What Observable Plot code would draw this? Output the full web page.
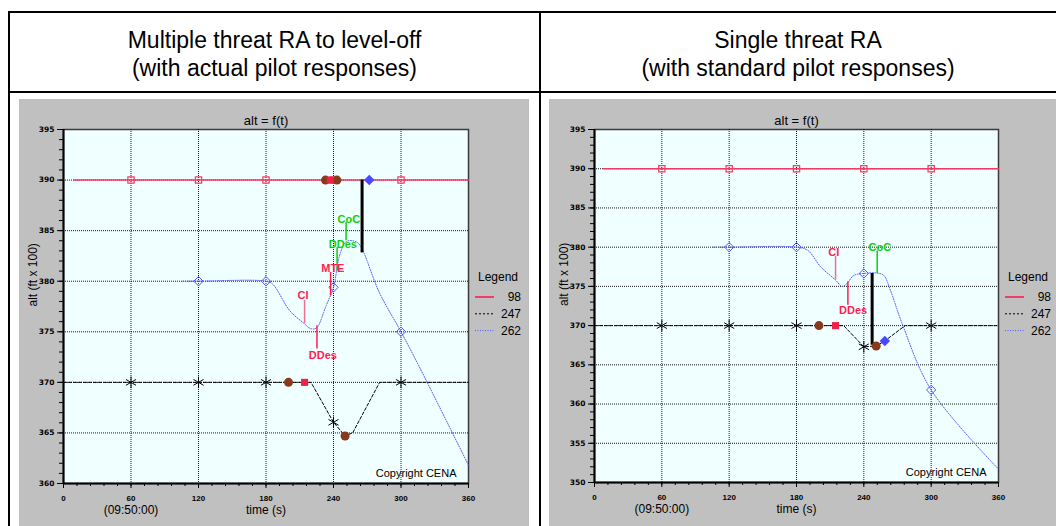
<!DOCTYPE html>
<html><head><meta charset="utf-8">
<script src="https://cdn.jsdelivr.net/npm/d3@7"></script>
<script src="https://cdn.jsdelivr.net/npm/@observablehq/plot@0.6"></script>
<style>
body{margin:0;background:#fff;width:1056px;height:526px;overflow:hidden;position:relative;font-family:"Liberation Sans",Arial,sans-serif}
.ln{position:absolute;background:#000}
.head{position:absolute;top:26px;text-align:center;font-size:23px;line-height:28px;color:#000}
.panel{position:absolute;top:99px}
.panel svg{display:block}
</style></head><body>
<div class="ln" style="left:8px;top:11px;width:1048px;height:2px"></div>
<div class="ln" style="left:8px;top:91px;width:1048px;height:2px"></div>
<div class="ln" style="left:8px;top:11px;width:2px;height:515px"></div>
<div class="ln" style="left:539px;top:11px;width:2px;height:515px"></div>
<div class="head" style="left:10px;width:529px">Multiple threat RA to level-off<br>(with actual pilot responses)</div>
<div class="head" style="left:541px;width:514px">Single threat RA<br>(with standard pilot responses)</div>
<div class="panel" id="left" style="left:19px"></div>
<div class="panel" id="right" style="left:549px"></div>
<script>
// ---------- data ----------
const seriesNames = ["98", "247", "262"];
const xMajor = [0, 60, 120, 180, 240, 300, 360];
const xLabels = ["0", "60", "120", "180", "240", "300", "360"];
const timeNote = "(09:50:00)";

// Left panel: multiple threat RA to level-off
const multiYDomain = [360, 395];
const multi98T = [9, 360], multi98Alt = [390, 390];
const multi98MarkT = [60, 120, 180, 240, 300], multi98MarkAlt = [390, 390, 390, 390, 390];
const multi247T = [0, 200, 214, 220, 240, 250.3, 257, 281, 360];
const multi247Alt = [370, 370, 370, 370, 366.05, 364.7, 365, 370, 370];
const multi247MarkT = [60, 120, 180, 240, 300], multi247MarkAlt = [370, 370, 370, 366.05, 370];
const multi262T = [106, 120, 180, 186, 201, 213, 220, 225, 233.5, 240, 245.3, 251, 257, 261.5, 265.4, 280.7, 300, 316, 360];
const multi262Alt = [380, 380, 380, 379.7, 377.1, 375.9, 375.3, 375.4, 377.6, 379.4, 382.5, 383.9, 384.0, 383.8, 383.2, 378.9, 375, 371.6, 361.8];
const multi262MarkT = [120, 180, 240, 300], multi262MarkAlt = [380, 380, 379.4, 375];
const multiCircleT = [232.9, 243, 200, 250.3], multiCircleAlt = [390, 390, 370, 364.7];
const multiSquareT = [237.1, 214.3], multiSquareAlt = [390, 370];
const multiDiamondT = [271.8], multiDiamondAlt = [390];
const multiBarT = [265.4], multiBarTop = [390], multiBarBottom = [382.8];
const multiAnnText = ["CI", "DDes", "MTE", "DDes", "CoC"];
const multiAnnKind = ["ciStem", "ra", "ra", "weak", "weak"];
const multiAnnT = [212.9, 230.6, 239.4, 248.3, 253.6];
const multiAnnAlt = [378.6, 372.7, 381.25, 383.65, 386.1];
const multiStemT = [214.3, 225.3, 237.4, 243.2, 251.2];
const multiStemA1 = [378.1, 375.6, 380.86, 383.3, 385.8];
const multiStemA2 = [375.8, 373.3, 378.55, 381.0, 384.0];

// Right panel: single threat RA
const singleYDomain = [350, 395];
const single98T = [8, 360], single98Alt = [390, 390];
const single98MarkT = [60, 120, 180, 240, 300], single98MarkAlt = [390, 390, 390, 390, 390];
const single247T = [0, 200, 215, 222, 240, 251, 258.7, 274, 277, 360];
const single247Alt = [370, 370, 370, 370, 367.3, 367.4, 368.05, 369.7, 370, 370];
const single247MarkT = [60, 120, 180, 240, 300], single247MarkAlt = [370, 370, 370, 367.3, 370];
const single262T = [106, 120, 180, 190, 201.5, 214.8, 220.7, 225.2, 231, 240, 251.9, 257.8, 263.7, 274, 300, 360];
const single262Alt = [380, 380, 380, 379.6, 377.5, 375.8, 375, 375.4, 376.4, 376.65, 376.7, 376.4, 374.5, 370.3, 361.8, 351.7];
const single262MarkT = [120, 180, 240, 300], single262MarkAlt = [380, 380, 376.65, 361.8];
const singleCircleT = [200, 251], singleCircleAlt = [370, 367.4];
const singleSquareT = [214.8], singleSquareAlt = [370];
const singleDiamondT = [258.7], singleDiamondAlt = [368.05];
const singleBarT = [247.4], singleBarTop = [376.65], singleBarBottom = [367.5];
const singleAnnText = ["CI", "DDes", "CoC"];
const singleAnnKind = ["ciStem", "ra", "weak"];
const singleAnnT = [213.3, 230.5, 254.2];
const singleAnnAlt = [379.3, 371.9, 380.0];
const singleStemT = [214.8, 225.8, 251.9];
const singleStemA1 = [378.8, 375.6, 379.5];
const singleStemA2 = [375.8, 372.6, 376.65];

// ---------- styling ----------
const NARROW = "'Liberation Sans Narrow','Arial Narrow',sans-serif";
const RED = "#f23c66", BLUE = "#5555ff", BROWN = "#8a3a1c", GREEN = "#10cc10", LABELRED = "#ff1f4f", PINK = "#f07090";
const stemColor = k => k === "ciStem" ? PINK : k === "ra" ? LABELRED : GREEN;
const textColor = k => k === "weak" ? GREEN : LABELRED;
const legendStyles = [
  {stroke: RED, dash: null, w: 2},
  {stroke: "#000", dash: "2,2", w: 1},
  {stroke: BLUE, dash: "1,1.5", w: 1}
];

function buildPanel(d, W, H, mL, mT, mR, mB) {
  const yMajor = d3.range(d.yDomain[0], d.yDomain[1] + 0.1, 5);
  const yMinor = d3.range(d.yDomain[0], d.yDomain[1] + 0.1, 1);
  const xMinor = d3.range(0, 361, 12);
  const idx = a => d3.range(a.length);
  const plot = Plot.plot({
    width: W, height: H, marginLeft: mL, marginTop: mT, marginRight: mR, marginBottom: mB,
    style: {background: "#c0c0c0", overflow: "visible", fontFamily: NARROW},
    x: {domain: [0, 360]},
    y: {domain: d.yDomain},
    marks: [
      Plot.frame({fill: "#f0ffff", stroke: "#3a3a3a", strokeWidth: 1.5}),
      Plot.gridX(xMajor.slice(1, -1), {stroke: "#000", strokeOpacity: 0.9, strokeDasharray: "1,1"}),
      Plot.gridY(yMajor.slice(1, -1), {stroke: "#000", strokeOpacity: 0.9, strokeDasharray: "1,1"}),
      Plot.axisY(yMinor, {tickSize: 4, tickFormat: () => "", label: null, stroke: "#000"}),
      Plot.axisY(yMajor, {tickSize: 6, tickPadding: 3, label: null, fontSize: 7.5, fontWeight: "bold",
        fontFamily: "'DejaVu Sans',sans-serif", fill: "#000"}),
      Plot.axisX(xMinor, {tickSize: 3, tickFormat: () => "", label: null}),
      Plot.axisX(xMajor, {tickSize: 5, tickPadding: 7, label: null, fontSize: 8, fontWeight: "bold",
        tickFormat: (v, i) => xLabels[i], fill: "#000"}),
      Plot.ruleX([0], {stroke: "#000", strokeWidth: 2}),
      Plot.ruleY([d.yDomain[0]], {stroke: "#000", strokeWidth: 2}),
      // series
      Plot.line(d.s98T, {x: d.s98T, y: d.s98Alt, stroke: RED, strokeWidth: 1.5}),
      Plot.line(d.s247T, {x: d.s247T, y: d.s247Alt, stroke: "#000", strokeWidth: 1, strokeDasharray: "3,2"}),
      Plot.line(d.s262T, {x: d.s262T, y: d.s262Alt, stroke: BLUE, strokeWidth: 1, strokeDasharray: "1,1.5", curve: "catmull-rom"}),
      Plot.dot(d.m98T, {x: d.m98T, y: d.m98Alt, symbol: "square2", r: 4, stroke: RED, fill: "none", strokeWidth: 1.2}),
      Plot.dot(d.m247T, {x: d.m247T, y: d.m247Alt, symbol: "asterisk", r: 5.5, stroke: "#000", strokeWidth: 1}),
      Plot.dot(d.m262T, {x: d.m262T, y: d.m262Alt, symbol: "diamond2", r: 4.2, stroke: BLUE, fill: "none", strokeWidth: 1}),
      // event markers
      Plot.ruleX(d.barT, {x: d.barT, y1: d.barTop, y2: d.barBottom, stroke: "#000", strokeWidth: 3}),
      Plot.dot(d.circleT, {x: d.circleT, y: d.circleAlt, symbol: "circle", r: 4.5, fill: BROWN}),
      Plot.dot(d.squareT, {x: d.squareT, y: d.squareAlt, symbol: "square", r: 4, fill: "#f0204a"}),
      Plot.dot(d.diamondT, {x: d.diamondT, y: d.diamondAlt, symbol: "square", rotate: 45, r: 4.2, fill: "#4848ff"}),
      // annotations
      Plot.ruleX(idx(d.stemT), {x: i => d.stemT[i], y1: i => d.stemA1[i], y2: i => d.stemA2[i],
        stroke: i => stemColor(d.annKind[i]), strokeWidth: 1.5}),
      Plot.text(idx(d.annText), {x: i => d.annT[i], y: i => d.annAlt[i], text: i => d.annText[i],
        fill: i => textColor(d.annKind[i]), fontSize: 11, fontWeight: "bold", fontFamily: NARROW}),
      // titles
      Plot.text(["alt = f(t)"], {frameAnchor: "top", dy: -14, fontSize: 13, fill: "#000"}),
      Plot.text(["alt (ft x 100)"], {frameAnchor: "left", dx: -30, dy: 0, rotate: -90, fontSize: 12, fill: "#000"}),
      Plot.text(["time (s)"], {frameAnchor: "bottom", dy: 30, fontSize: 12, fill: "#000"}),
      Plot.text([timeNote], {x: () => 60, frameAnchor: "bottom", dy: 30, fontSize: 12, fill: "#000",
        fontFamily: "'Liberation Sans',Arial,sans-serif"}),
      Plot.text(["Copyright CENA"], {frameAnchor: "bottom-right", dx: -12, dy: -7, textAnchor: "end",
        fontSize: 11, fill: "#000", fontFamily: "'Liberation Sans',Arial,sans-serif"})
    ]
  });
  // legend (outside the plotting frame)
  const right = W - mR, top = mT;
  const g = d3.select(plot).append("g").attr("font-family", NARROW).attr("font-size", 12).attr("fill", "#000");
  g.append("text").attr("x", right + 30).attr("y", top + 148).attr("dy", "0.35em").attr("text-anchor", "middle").text("Legend");
  seriesNames.forEach((name, i) => {
    const y = top + 168 + i * 16.8;
    const s = legendStyles[i];
    g.append("line").attr("x1", right + 7).attr("x2", right + 26).attr("y1", y).attr("y2", y)
      .attr("stroke", s.stroke).attr("stroke-width", s.w).attr("stroke-dasharray", s.dash);
    g.append("text").attr("x", right + 53).attr("y", y).attr("dy", "0.35em").attr("text-anchor", "end").text(name);
  });
  return plot;
}

const multi = {yDomain: multiYDomain, s98T: multi98T, s98Alt: multi98Alt, s247T: multi247T, s247Alt: multi247Alt,
  s262T: multi262T, s262Alt: multi262Alt, m98T: multi98MarkT, m98Alt: multi98MarkAlt, m247T: multi247MarkT,
  m247Alt: multi247MarkAlt, m262T: multi262MarkT, m262Alt: multi262MarkAlt, circleT: multiCircleT, circleAlt: multiCircleAlt,
  squareT: multiSquareT, squareAlt: multiSquareAlt, diamondT: multiDiamondT, diamondAlt: multiDiamondAlt,
  barT: multiBarT, barTop: multiBarTop, barBottom: multiBarBottom, annText: multiAnnText, annKind: multiAnnKind,
  annT: multiAnnT, annAlt: multiAnnAlt, stemT: multiStemT, stemA1: multiStemA1, stemA2: multiStemA2};
const single = {yDomain: singleYDomain, s98T: single98T, s98Alt: single98Alt, s247T: single247T, s247Alt: single247Alt,
  s262T: single262T, s262Alt: single262Alt, m98T: single98MarkT, m98Alt: single98MarkAlt, m247T: single247MarkT,
  m247Alt: single247MarkAlt, m262T: single262MarkT, m262Alt: single262MarkAlt, circleT: singleCircleT, circleAlt: singleCircleAlt,
  squareT: singleSquareT, squareAlt: singleSquareAlt, diamondT: singleDiamondT, diamondAlt: singleDiamondAlt,
  barT: singleBarT, barTop: singleBarTop, barBottom: singleBarBottom, annText: singleAnnText, annKind: singleAnnKind,
  annT: singleAnnT, annAlt: singleAnnAlt, stemT: singleStemT, stemA1: singleStemA1, stemA2: singleStemA2};

document.getElementById("left").appendChild(buildPanel(multi, 510, 427, 44, 30, 61, 43));
document.getElementById("right").appendChild(buildPanel(single, 507, 427, 45, 30, 58, 44));
</script>
</body></html>
